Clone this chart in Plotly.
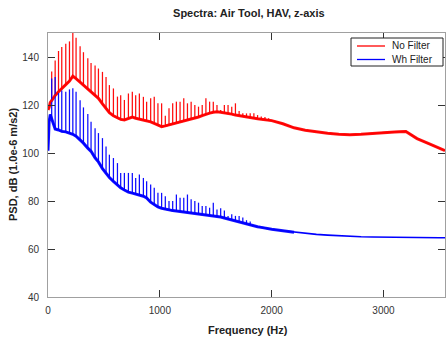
import plotly.graph_objects as go

# Frequencies (Hz) at which values were read; harmonics are where peaks exist
hz = [0, 10, 20, 33, 64, 94, 123, 159, 192, 222, 251, 287, 317, 356, 385, 421, 451,
      487, 519, 549, 585, 621, 650, 683, 719, 754, 784, 817, 853, 882, 918, 950,
      983, 1016, 1049, 1082, 1115, 1148, 1181, 1214, 1247, 1280, 1313, 1346, 1379,
      1412, 1445, 1478, 1511, 1544, 1577, 1610, 1643, 1676, 1709, 1742, 1775, 1808,
      1841, 1874, 1907, 1940, 1973, 2000, 2100, 2200, 2300, 2400, 2500, 2600, 2700,
      2800, 2900, 3000, 3100, 3200, 3300, 3400, 3500, 3550]

# "No Filter" baseline (dB) and harmonic peaks (None = no peak)
red_base = [118, 119, 121, 122, 124, 125.5, 127, 128.5, 130, 132, 131, 129.5, 128.3,
            126.5, 125.5, 124, 122.8, 120.5, 118.5, 116.8, 115.5, 114.5, 114, 113.8,
            114.5, 115, 114.5, 114.2, 113.8, 113.5, 113, 112.3, 111.5, 111, 111.3,
            111.7, 112, 112.5, 113, 113.3, 113.8, 114.2, 114.5, 115, 115.6, 116.2,
            116.6, 117, 117.2, 117, 116.8, 116.6, 116.2, 115.8, 115.5, 115.3, 115,
            114.8, 114.5, 114.3, 114.1, 113.9, 113.7, 113.5, 112.2, 110.5, 109.5,
            108.8, 108.2, 107.8, 107.6, 107.8, 108.2, 108.3, 108.8, 109, 106, 104,
            102, 101]
red_peak = [None, None, None, 134, 138.5, 142.5, 144.2, 145.5, 146.5, 150, 148,
            144.5, 142, 139.5, 137.5, 136.5, 135.2, 133.8, 131.7, 128.3, 126.9, 123.5,
            124.1, 122.1, 124.8, 125.5, 124.1, 124.8, 123.4, 121.4, 122.8, 123.4,
            120.7, 120.7, 115.5, 118.6, 120.7, 121.4, 121.4, 122.8, 120.7, 121.4, 120,
            119.3, 120, 122.8, 121.4, 121.4, 120, 117.9, 120, 120, 119.3, 120.7, 117.5,
            116.6, 116.5, 116.6, 116.6, 115.8, 115.2, 115, 114.5, None, None, None,
            None, None, None, None, None, None, None, None, None, None, None, None,
            None, None]

# "Wh Filter" baseline (dB) and harmonic peaks
blue_base = [101, 113, 116, 114, 110, 109.6, 109, 108.8, 108.3, 107.8, 107, 105.5,
             104.1, 102, 100.7, 98, 96.3, 93.5, 91.5, 89.8, 88.2, 86.7, 85.5, 84.6,
             83.7, 83.3, 83, 82.5, 82, 81.3, 79.5, 78.5, 77.5, 77, 76.6, 76.2, 76,
             75.8, 75.6, 75.4, 75.2, 75, 74.8, 74.6, 74.5, 74.3, 74.1, 73.9, 73.7,
             73.3, 72.9, 72.5, 72, 71.5, 71, 70.6, 70.2, 69.9, 69.6, 69.3, 69, 68.7,
             68.4, 68.2, 67.6, 67, 66.6, 66.1, 65.8, 65.5, 65.2, 65.1, 65, 64.9, 64.8,
             64.8, 64.8, 64.7, 64.7, 64.7]
blue_peak = [None, None, None, 131, 131.7, 125, 126, 125.5, 126.5, 127, 125.5, 122,
             119, 116.3, 113, 110.3, 108.3, 106.2, 102.7, 99.3, 97.9, 95.8, 91.7, 91.7,
             91.7, 91.7, 89.6, 91, 89.6, 88.2, 86.9, 85.5, 83.4, 83.4, 82, 80, 80,
             82.7, 81.4, 81.4, 82.7, 80.7, 80, 79.3, 77.9, 77.9, 77.2, 79.3, 76.5, 77,
             76, 73.8, 74.5, 73.8, 73.8, 73.1, 72, 71.5, None, None, None, None, None,
             None, None, None, None, None, None, None, None, None, None, None, None,
             None, None, None, None, None]

# Upper frequency of the visibly noisy (thick) part of each trace
red_noisy_to = 3550
blue_noisy_to = 2200

series = [("No Filter", red_base, red_peak, "#ff0000", red_noisy_to),
          ("Wh Filter", blue_base, blue_peak, "#0000ff", blue_noisy_to)]

fig = go.Figure()
for name, base, peak, col, noisy_to in series:
    sx, sy = [], []
    for f, b, p in zip(hz, base, peak):
        if p is not None:
            sx += [f, f, None]
            sy += [b, p, None]
    fig.add_trace(go.Scatter(x=sx, y=sy, mode="lines", showlegend=False,
                             line=dict(color=col, width=1.25), opacity=0.95,
                             hoverinfo="skip"))
    nx = [f for f in hz if f <= noisy_to]
    ny = [b for f, b in zip(hz, base) if f <= noisy_to]
    fig.add_trace(go.Scatter(x=nx, y=ny, mode="lines", showlegend=False,
                             line=dict(color=col, width=3.0), opacity=0.9,
                             hoverinfo="skip"))
for name, base, peak, col, noisy_to in series:
    fig.add_trace(go.Scatter(x=hz, y=base, mode="lines", name=name, showlegend=False,
                             line=dict(color=col, width=1.6)))

axis_common = dict(showgrid=False, zeroline=False, showline=True, linecolor="#a0a0a0",
                   linewidth=1, mirror="ticks", ticks="inside", ticklen=7,
                   tickcolor="#333333", automargin=False,
                   tickfont=dict(family="Arial", size=10, color="#333333"))

# Legend drawn as a boxed key in the top-right corner (paper coordinates)
PW, PH = 397.0, 264.0
def px_x(p):
    return (p - 48) / PW
def px_y(p):
    return (297 - p) / PH

shapes = [dict(type="rect", xref="paper", yref="paper", x0=px_x(351), x1=px_x(443),
               y0=px_y(66), y1=px_y(38), line=dict(color="#222222", width=1),
               fillcolor="white", layer="above")]
annotations = []
for i, (name, base, peak, col, noisy_to) in enumerate(series):
    yy = px_y(46 + 13.5 * i)
    shapes.append(dict(type="line", xref="paper", yref="paper", x0=px_x(357),
                       x1=px_x(385), y0=yy, y1=yy, line=dict(color=col, width=1.3),
                       layer="above"))
    annotations.append(dict(text=name, xref="paper", yref="paper", x=px_x(390), y=yy,
                            xanchor="left", yanchor="middle", showarrow=False,
                            font=dict(family="Arial", size=10, color="#222222")))

annotations += [
    dict(text="<b>Frequency (Hz)</b>", xref="paper", yref="paper",
         x=0.505, y=-33 / PH, xanchor="center", yanchor="middle", showarrow=False,
         font=dict(family="Arial", size=11, color="#222222")),
    dict(text="<b>PSD, dB (1.0e-6 m/s2)</b>", xref="paper", yref="paper",
         x=-35 / PW, y=0.5, xanchor="center", yanchor="middle", showarrow=False,
         textangle=-90, font=dict(family="Arial", size=11, color="#222222")),
]

fig.update_layout(
    width=446, height=341,
    margin=dict(l=48, r=1, t=33, b=44),
    paper_bgcolor="white", plot_bgcolor="white",
    showlegend=False,
    title=dict(text="<b>Spectra: Air Tool, HAV, z-axis</b>", x=0.558, xref="container",
               xanchor="center", y=0.962, yref="container", yanchor="middle",
               font=dict(family="Arial", size=11, color="#222222")),
    xaxis=dict(range=[0, 3550], tickvals=[0, 1000, 2000, 3000], ticklabelstandoff=4,
               **axis_common),
    yaxis=dict(range=[40, 150], tickvals=[40, 60, 80, 100, 120, 140], ticklabelstandoff=6,
               **axis_common),
    shapes=shapes,
    annotations=annotations,
)

fig.write_html("out.html", config={"displayModeBar": False},
               post_script="document.body.style.margin='0px';")
